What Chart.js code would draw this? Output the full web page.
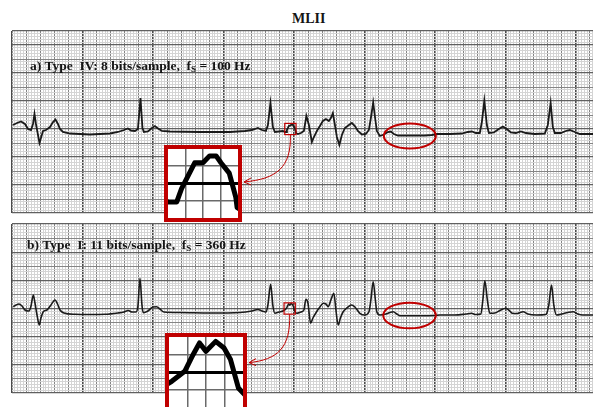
<!DOCTYPE html>
<html>
<head>
<meta charset="utf-8">
<script src="https://cdn.jsdelivr.net/npm/chart.js"></script>
<style>
  body { margin: 0; width: 593px; height: 407px; overflow: hidden; position: relative; background: #fff; }
  canvas { position: absolute; }
  .txt { position: absolute; font-family: "Liberation Serif", "DejaVu Serif", serif; font-weight: bold; color: #151515; white-space: pre; }
  .txt sub { font-size: 9px; vertical-align: -2px; }
  .inset { position: absolute; border: 4px solid #c00000; background: #fff; }
  .inset canvas { position: static; display: block; }
</style>
</head>
<body>

<div class="txt" style="left:292px; top:12px; font-size:14px; line-height:14px;">MLII</div>

<canvas id="stripA" width="596" height="186" style="left:10px; top:29px;"></canvas>
<canvas id="stripB" width="596" height="173" style="left:10px; top:222px;"></canvas>

<div class="txt" style="left:30px; top:59px; font-size:13.5px; line-height:14px;">a) Type  IV: 8 bits/sample,  f<sub>S</sub> = 100 Hz</div>
<div class="txt" style="left:27px; top:238px; font-size:13.5px; line-height:14px;">b) Type  I: 11 bits/sample,  f<sub>S</sub> = 360 Hz</div>

<div class="inset" id="insetA" style="left:164px; top:145px;"><canvas id="zoomA" width="70" height="69"></canvas></div>
<div class="inset" id="insetB" style="left:165px; top:333px;"><canvas id="zoomB" width="74" height="70"></canvas></div>

<script>
// strip a) Type IV, 8 bits/sample, fs = 100 Hz  (time in s, amplitude in mV)
const timeA = [0.014, 0.071, 0.128, 0.184, 0.227, 0.270, 0.298, 0.319, 0.340, 0.369,
  0.390, 0.411, 0.440, 0.482, 0.539, 0.582, 0.617, 0.652, 0.681, 0.723,
  0.823, 0.965, 1.106, 1.248, 1.390, 1.504, 1.589, 1.645, 1.688, 1.745,
  1.787, 1.823, 1.851, 1.872, 1.929, 1.986, 2.028, 2.071, 2.128, 2.241,
  2.667, 3.092, 3.305, 3.404, 3.489, 3.546, 3.603, 3.631, 3.667, 3.702,
  3.730, 3.787, 3.844,
  3.870, 3.890, 3.901, 3.931, 3.950, 3.965, 3.980, 3.991, 4.010, 4.025, 4.028,
  4.057, 4.099, 4.142, 4.177, 4.213, 4.255, 4.284, 4.326, 4.369, 4.411,
  4.454, 4.496, 4.525, 4.553, 4.582, 4.610, 4.645, 4.681, 4.723, 4.780,
  4.823, 4.865, 4.908, 4.965, 5.021, 5.064, 5.092, 5.125, 5.156, 5.177,
  5.220, 5.277, 5.333, 5.376, 5.418, 5.475, 5.645, 5.858, 5.957, 6.028,
  6.213, 6.383, 6.468, 6.525, 6.582, 6.638, 6.667, 6.702, 6.738, 6.766,
  6.837, 6.908, 6.965, 7.021, 7.078, 7.149, 7.220, 7.291, 7.418, 7.560,
  7.603, 7.643, 7.674, 7.702, 7.787, 7.858, 7.915, 7.986, 8.057, 8.241, 8.4];
const mvA = [0.143, 0.214, 0.268, 0.179, 0, -0.036, 0.179, 0.536, 0.179, -0.214,
  -0.5, -0.321, -0.071, -0.036, 0.071, 0.25, 0.339, 0.179, 0, -0.107,
  -0.161, -0.179, -0.196, -0.179, -0.161, -0.107, -0.036, 0.018, -0.054, -0.071,
  0, 1.107, 0.036, -0.107, -0.089, 0.036, 0.107, 0.018, -0.071, -0.089,
  -0.107, -0.107, -0.071, -0.036, 0.036, -0.036, -0.071, 0.143, 0.929, 0.071,
  -0.107, -0.089, -0.071,
  -0.107, -0.107, -0.03, 0.12, 0.12, 0.16, 0.16, 0.12, 0.06, -0.08, -0.14,
  -0.179, -0.143, -0.071, 0.464, 0.143, -0.464, -0.286, -0.071, 0.107, 0.286,
  0.357, 0.286, 0.393, 0.571, 0.143, -0.286, -0.571, -0.214, 0.036, 0.143,
  0.214, 0.107, -0.071, -0.196, -0.179, -0.036, 0.393, 0.946, 0.321, -0.071,
  -0.25, -0.196, -0.107, -0.089, -0.179, -0.232, -0.232, -0.232, -0.214, -0.179,
  -0.179, -0.161, -0.107, -0.089, -0.143, -0.143, 0.25, 1.018, 0.143, -0.143,
  -0.125, 0, 0.089, 0, -0.125, -0.143, -0.089, -0.143, -0.179, -0.161,
  0.143, 0.929, 0.071, -0.143, -0.143, -0.071, -0.036, -0.107, -0.179, -0.179, -0.179];

// strip b) Type I, 11 bits/sample, fs = 360 Hz
const timeB = [0.018, 0.057, 0.099, 0.142, 0.184, 0.241, 0.270, 0.302, 0.326, 0.355,
  0.387, 0.411, 0.444, 0.496, 0.553, 0.610, 0.652, 0.681, 0.738, 0.894,
  1.106, 1.319, 1.504, 1.589, 1.650, 1.702, 1.759, 1.787, 1.816, 1.844,
  1.862, 1.929, 2.0, 2.052, 2.099, 2.156, 2.383, 2.809, 3.234, 3.404,
  3.489, 3.546, 3.603, 3.631, 3.670, 3.702, 3.730, 3.787, 3.844,
  3.866, 3.894, 3.912, 3.926, 3.940, 3.961, 3.979, 3.993, 4.010,
  4.038, 4.099, 4.142, 4.170, 4.199, 4.237, 4.270, 4.322, 4.369, 4.416,
  4.454, 4.487, 4.525, 4.567, 4.596, 4.628, 4.660, 4.699, 4.752, 4.818,
  4.865, 4.936, 5.007, 5.064, 5.092, 5.125, 5.156, 5.177, 5.220, 5.305,
  5.362, 5.409, 5.461, 5.504, 5.787, 6.0, 6.071, 6.284, 6.440, 6.521,
  6.582, 6.652, 6.681, 6.709, 6.745, 6.780, 6.851, 6.922, 7.007, 7.064,
  7.099, 7.170, 7.252, 7.319, 7.443, 7.574, 7.617, 7.655, 7.688, 7.726,
  7.801, 7.887, 7.962, 8.028, 8.099, 8.241, 8.4];
const mvB = [0.064, 0.124, 0.160, 0.089, -0.053, -0.089, 0.089, 0.479, 0.195, -0.231,
  -0.586, -0.337, -0.114, -0.053, 0.124, 0.302, 0.124, -0.053, -0.160, -0.206,
  -0.213, -0.206, -0.160, -0.124, -0.071, -0.124, -0.124, 0.089, 1.072, 0.124,
  -0.149, -0.089, 0.053, 0.064, -0.018, -0.124, -0.142, -0.160, -0.142, -0.089,
  -0.036, -0.089, -0.124, 0.124, 0.859, 0.089, -0.170, -0.124, -0.089,
  -0.053, 0.004, 0.099, 0.166, 0.118, 0.175, 0.137, 0.071, -0.091,
  -0.170, -0.124, -0.053, 0.327, 0.195, -0.525, -0.337, -0.114, 0.053, 0.185,
  0.160, 0.064, 0.302, 0.540, -0.053, -0.586, -0.337, -0.114, 0.018, 0.124,
  0.053, -0.170, -0.231, -0.124, 0.302, 0.951, 0.302, -0.124, -0.231, -0.195,
  -0.142, -0.114, -0.195, -0.256, -0.256, -0.248, -0.231, -0.231, -0.195, -0.170,
  -0.213, -0.195, 0.302, 0.987, 0.302, -0.170, -0.160, -0.071, 0.007, -0.089,
  -0.170, -0.177, -0.114, -0.195, -0.231, -0.213, 0.124, 0.834, 0.124, -0.231,
  -0.195, -0.142, -0.114, -0.195, -0.231, -0.231, -0.231];

// zoomed windows (s, mV) shown in the red insets
const zoomA = { t0: 3.87, t1: 4.03, v0: -0.2, v1: 0.2 };
const zoomB = { t0: 3.86, t1: 4.02, v0: -0.2, v1: 0.2 };
// flat stretch circled in red (centre and half sizes, s and mV)
const flatA = { t: 5.645, v: -0.25, dt: 0.369, dv: 0.446 };
const flatB = { t: 5.641, v: -0.248, dt: 0.373, dv: 0.454 };

const RED = '#c00000';

function isMultiple(v, m) {
  const r = v / m;
  return Math.abs(r - Math.round(r)) < 1e-6;
}

function paperGrid(medium, major, majorColor, majorWidth) {
  const isMajor = c => c.index === 0 || c.index === c.scale.ticks.length - 1 || isMultiple(c.tick.value, major);
  return {
    drawTicks: false,
    color: c => isMajor(c) ? majorColor : (isMultiple(c.tick.value, medium) ? '#858585' : '#d4d4d4'),
    lineWidth: c => isMajor(c) ? majorWidth : 1
  };
}

function toPoints(times, values) {
  return times.map((t, i) => ({ x: t, y: values[i] }));
}

// red box, ellipse and arrow drawn on top of a strip
const marksPlugin = {
  id: 'marks',
  afterDatasetsDraw(chart, args, opts) {
    const { ctx, scales: { x, y } } = chart;
    const z = opts.zoom, f = opts.flat;
    ctx.save();
    ctx.strokeStyle = RED;

    const bx0 = x.getPixelForValue(z.t0), bx1 = x.getPixelForValue(z.t1);
    const by0 = y.getPixelForValue(z.v1), by1 = y.getPixelForValue(z.v0);
    ctx.lineWidth = 1.2;
    ctx.strokeRect(bx0, by0, bx1 - bx0, by1 - by0);

    const cx = x.getPixelForValue(f.t), cy = y.getPixelForValue(f.v);
    ctx.lineWidth = 2;
    ctx.beginPath();
    ctx.ellipse(cx, cy, x.getPixelForValue(f.t + f.dt) - cx, y.getPixelForValue(f.v - f.dv) - cy, 0, 0, Math.PI * 2);
    ctx.stroke();

    const inset = document.getElementById(opts.insetId);
    const cv = chart.canvas;
    const ex = inset.offsetLeft + inset.offsetWidth - cv.offsetLeft + 2;
    const ey = inset.offsetTop + inset.offsetHeight * opts.tipAt - cv.offsetTop;
    const sx = (bx0 + bx1) / 2, sy = by1;
    ctx.lineWidth = 1;
    ctx.beginPath();
    ctx.moveTo(sx, sy);
    ctx.bezierCurveTo(sx + 1, sy + 0.7 * (ey - sy), sx - 0.3 * (sx - ex), ey - 3, ex, ey);
    ctx.stroke();
    ctx.beginPath();
    ctx.moveTo(ex + 7, ey - 4);
    ctx.lineTo(ex, ey);
    ctx.lineTo(ex + 7, ey + 3);
    ctx.stroke();
    ctx.restore();
  }
};

function makeStrip(id, times, values, yMin, yMax, lineWidth, smooth, marks) {
  new Chart(document.getElementById(id), {
    type: 'line',
    data: {
      datasets: [{
        data: toPoints(times, values),
        borderColor: '#1a1a1a',
        borderWidth: lineWidth,
        pointRadius: 0,
        cubicInterpolationMode: smooth ? 'monotone' : 'default',
        tension: 0
      }]
    },
    options: {
      responsive: false,
      animation: false,
      devicePixelRatio: 1,
      layout: { padding: 2 },
      plugins: { legend: { display: false }, tooltip: { enabled: false }, marks: marks },
      scales: {
        x: {
          type: 'linear', min: 0, max: 8.4,
          ticks: { display: false, stepSize: 0.04 },
          grid: paperGrid(0.2, 1, '#4a4a4a', 1.6),
          border: { display: false }
        },
        y: {
          min: yMin, max: yMax,
          ticks: { display: false, stepSize: 0.1 },
          grid: paperGrid(0.5, 1, '#606060', 1.2),
          border: { display: false }
        }
      }
    },
    plugins: [marksPlugin]
  });
}

function makeZoom(id, times, values, z) {
  const edge = c => c.index === 0 || c.index === c.scale.ticks.length - 1;
  new Chart(document.getElementById(id), {
    type: 'line',
    data: {
      datasets: [{
        data: toPoints(times, values),
        borderColor: '#000',
        borderWidth: 5,
        borderJoinStyle: 'round',
        borderCapStyle: 'round',
        pointRadius: 0,
        tension: 0
      }]
    },
    options: {
      responsive: false,
      animation: false,
      devicePixelRatio: 1,
      plugins: { legend: { display: false }, tooltip: { enabled: false } },
      scales: {
        x: {
          type: 'linear', min: z.t0, max: z.t1,
          ticks: { display: false, stepSize: 0.04 },
          grid: { drawTicks: false, color: c => edge(c) ? 'rgba(0,0,0,0)' : '#6a6a6a', lineWidth: 1.5 },
          border: { display: false }
        },
        y: {
          min: z.v0, max: z.v1,
          ticks: { display: false, stepSize: 0.1 },
          grid: {
            drawTicks: false,
            color: c => edge(c) ? 'rgba(0,0,0,0)' : (Math.abs(c.tick.value) < 1e-6 ? '#000' : '#6a6a6a'),
            lineWidth: c => Math.abs(c.tick.value) < 1e-6 ? 3 : 1.5
          },
          border: { display: false }
        }
      }
    }
  });
}

makeStrip('stripA', timeA, mvA, -3, 3.5, 1.8, false, { zoom: zoomA, flat: flatA, insetId: 'insetA', tipAt: 0.48 });
makeStrip('stripB', timeB, mvB, -3, 3, 1.6, true, { zoom: zoomB, flat: flatB, insetId: 'insetB', tipAt: 0.38 });
makeZoom('zoomA', timeA, mvA, zoomA);
makeZoom('zoomB', timeB, mvB, zoomB);
</script>
</body>
</html>
